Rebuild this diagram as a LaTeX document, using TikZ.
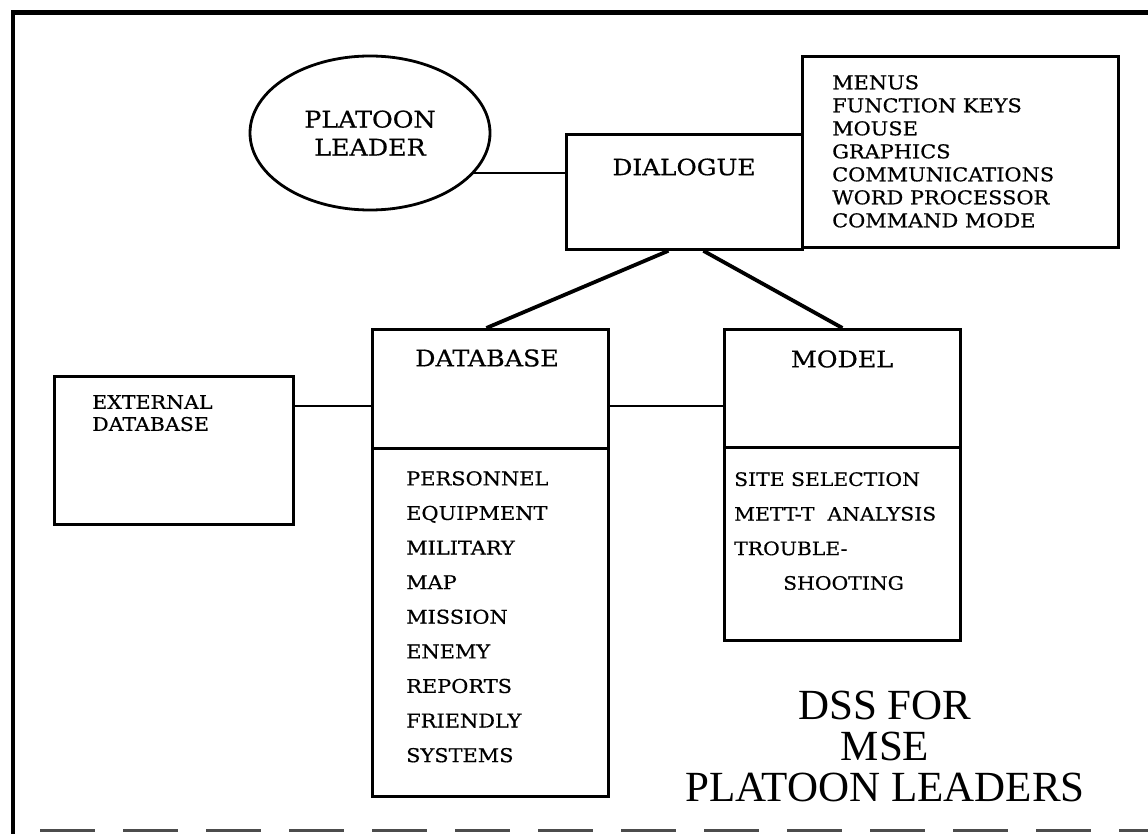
\documentclass[tikz,border=0pt]{standalone}
\usepackage{fontspec}
\setmainfont{DejaVu Serif}[FakeStretch=1.1,FakeBold=0.6]
\newfontfamily\titlefont{Liberation Serif}
\usetikzlibrary{positioning}
\usetikzlibrary{shapes.geometric}
\tikzset{
  box/.style={anchor=north west, draw, line width=2.8pt, shape=rectangle, inner sep=0pt},
  link/.style={line width=2.8pt},
  branch/.style={line width=3.8pt},
  listtext/.style={anchor=north west, inner sep=0pt, align=left}
}

\begin{document}
\begin{tikzpicture}[x=1pt,y=-1pt]
        \useasboundingbox (0,0) rectangle (1148,834);
        % frame
        \draw[line width=5pt] (11,13) -- (1148,13);
        \draw[line width=4pt] (13,11) -- (13,834);
        \draw[line width=3pt, black!70, dash pattern=on 55pt off 28pt] (40,830) -- (1148,830);

        \node[ellipse, draw, line width=2.8pt, minimum width=240pt, minimum height=154pt, align=center,
              font=\fontsize{23}{28}\selectfont]
        (leader) at (370,133) {PLATOON\\LEADER};

        \node[box, minimum width=236pt, minimum height=115pt] (dialogue) at (565,133) {};
        \node[font=\fontsize{22.5}{26}\selectfont] (dialoguetxt) at (684,167) {DIALOGUE};

        \node[box, minimum width=316pt, minimum height=191pt] (menus) at (801,55) {};
        \node[listtext, font=\fontsize{19}{23}\selectfont] (menustxt) at (832,75)
        {MENUS\\FUNCTION KEYS\\MOUSE\\GRAPHICS\\COMMUNICATIONS\\WORD PROCESSOR\\COMMAND MODE};

        \node[box, minimum width=236pt, minimum height=119pt] (dbhead) at (371,328) {};
        \node[font=\fontsize{23}{26}\selectfont] (dbheadtxt) at (487,358) {DATABASE};
        \node[box, minimum width=236pt, minimum height=348pt] (dblist) at (371,447) {};
        \node[listtext, font=\fontsize{19}{34.6}\selectfont] (dblisttxt) at (406,471)
        {PERSONNEL\\EQUIPMENT\\MILITARY\\MAP\\MISSION\\ENEMY\\REPORTS\\FRIENDLY\\SYSTEMS};

        \node[box, minimum width=236pt, minimum height=118pt] (modelhead) at (723,328) {};
        \node[font=\fontsize{23}{26}\selectfont] (modelheadtxt) at (842,359) {MODEL};
        \node[box, minimum width=236pt, minimum height=193pt] (modellist) at (723,446) {};
        \node[listtext, font=\fontsize{18.5}{34.6}\selectfont] (modellisttxt) at (734,472)
        {SITE SELECTION\\METT-T\ \ ANALYSIS\\TROUBLE-\\\hspace*{49pt}SHOOTING};

        \node[box, minimum width=239pt, minimum height=148pt] (extdb) at (53,375) {};
        \node[listtext, font=\fontsize{18.7}{22}\selectfont] (extdbtxt) at (92,395) {EXTERNAL\\DATABASE};

        \node[align=center, font=\titlefont\fontsize{43}{41}\selectfont] (title) at (885,746)
        {DSS FOR\\MSE\\PLATOON LEADERS};

        % connectors
        \draw[link] (leader.-21) -- (leader.-21 -| dialogue.west);
        \draw[branch] ([xshift=-16pt]dialogue.south) -- ([xshift=-4pt]dbhead.north);
        \draw[branch] ([xshift=19pt]dialogue.south) -- (modelhead.north);
        \draw[link] ([yshift=-17pt]dbhead.west) -- ([yshift=-17pt]dbhead.west -| extdb.east);
        \draw[link] ([yshift=-17pt]dbhead.east) -- ([yshift=-17pt]dbhead.east -| modelhead.west);
\end{tikzpicture}
\end{document}
